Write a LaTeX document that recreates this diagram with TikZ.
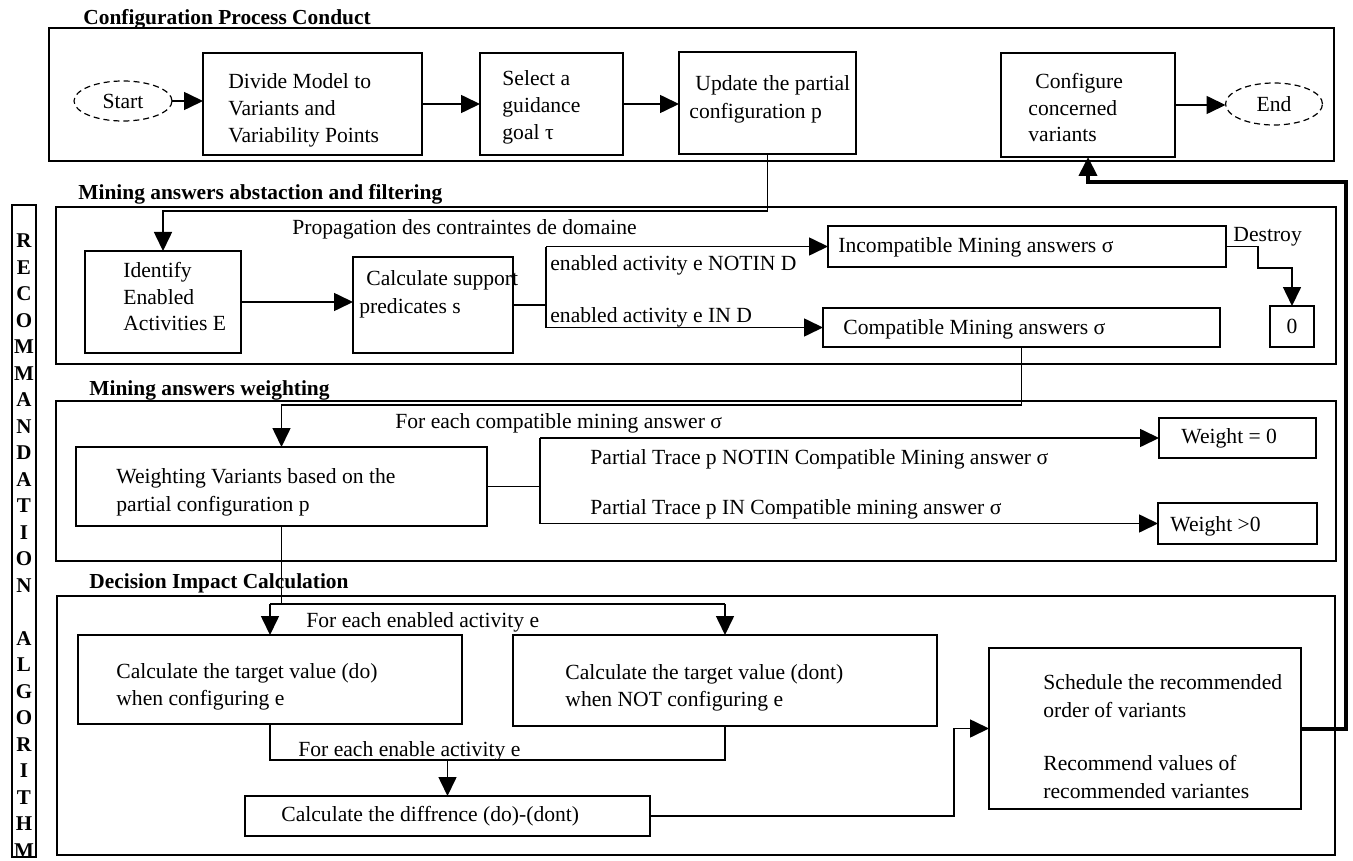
\documentclass[tikz,border=0pt]{standalone}
\usepackage{fontspec}
\setmainfont{Liberation Serif}
\usetikzlibrary{arrows.meta,shapes.geometric}
\newcommand\pxbox[6][box]{\node[#1, minimum width={(#5-#3)*0.5pt}, minimum height={(#6-#4)*0.5pt}] (#2) at ({(#3+#5)/2},{(#4+#6)/2}) {};}
\tikzset{
 box/.style={draw, line width=0.9pt, inner sep=0pt, outer sep=0pt},
 sec/.style={draw, line width=0.9pt, inner sep=0pt, outer sep=0pt},
 oval/.style={ellipse, draw, densely dashed, line width=0.6pt, inner sep=0pt, outer sep=0pt, font=\fontsize{10.8}{13}\selectfont},
 arr/.style={line width=0.8pt, -{Triangle[length=9.5pt,width=9pt]}},
 ln/.style={line width=0.8pt},
 ret/.style={line width=2pt, -{Triangle[length=9.5pt,width=9pt]}},
 txt/.style={anchor=west, align=left, inner sep=0pt, font=\fontsize{10.8}{13.5}\selectfont},
 ttl/.style={anchor=west, inner sep=0pt, font=\fontsize{10.7}{13}\selectfont\bfseries},
 vl/.style={inner sep=0pt, font=\fontsize{10.5}{12}\selectfont\bfseries},
}
\begin{document}
\begin{tikzpicture}[x=0.5pt,y=-0.5pt]
\useasboundingbox (0,0) rectangle (1353,861);
% ---------- Section 1
\node[ttl] (t1) at (83,19) {Configuration Process Conduct};
\pxbox[sec]{s1}{49}{28}{1334}{161}
\node[oval, minimum width=49pt, minimum height=20pt] (start) at (123,101) {Start};
\pxbox{divide}{203}{53}{422}{155}
\node[txt] (divt) at (228,110) {Divide Model to\\Variants and\\Variability Points};
\pxbox{select}{480}{53}{623}{155}
\node[txt] (selt) at (502,107) {Select a\\guidance\\goal τ};
\pxbox{update}{679}{52}{856}{154}
\node[txt, font=\fontsize{10.8}{14}\selectfont] (updt) at (689,99) {\hspace{3pt}Update the partial\\configuration p};
\pxbox{configure}{1001}{53}{1175}{157}
\node[txt, font=\fontsize{10.8}{13.25}\selectfont] (cfgt) at (1028,108) {\hspace{3.5pt}Configure\\concerned\\variants};
\node[oval, minimum width=48.5pt, minimum height=21pt] (end) at (1274,104) {End};
\draw[arr] (start.east) -- (start.east -| divide.west);
\draw[arr] (divide.east) -- (divide.east -| select.west);
\draw[arr] (select.east) -- (select.east -| update.west);
\draw[arr] (configure.east) -- (configure.east -| end.west);
% ---------- Section 2
\node[ttl] (t2) at (78,194) {Mining answers abstaction and filtering};
\pxbox[sec]{s2}{56}{207}{1336}{364}
\node[txt] (prop) at (292,229) {Propagation des contraintes de domaine};
\pxbox{identify}{85}{251}{241}{353}
\node[txt, font=\fontsize{10.8}{13.25}\selectfont] (idt) at (123,297) {Identify\\Enabled\\Activities E};
\pxbox{calc}{353}{257}{513}{353}
\node[txt, font=\fontsize{10.8}{14}\selectfont] (calct) at (359,294) {\hspace{3.5pt}Calculate support\\predicates s};
\pxbox{incompat}{828}{226}{1226}{267}
\node[txt] (inct) at (838,247) {Incompatible Mining answers σ};
\pxbox{compat}{823}{308}{1220}{347}
\node[txt] (comt) at (843,329) {Compatible Mining answers σ};
\pxbox{zero}{1270}{306}{1314}{347}
\node[inner sep=0pt, font=\fontsize{10.8}{13}\selectfont] (zerot) at (zero.center) {0};
\node[txt] (dest) at (1233,237) {Destroy};
\node[txt] (lnot) at (550,265) {enabled activity e NOTIN D};
\node[txt] (lin) at (550,317) {enabled activity e IN D};
\coordinate (c1) at (0,211);
\draw[arr] (update.south) |- (c1 -| identify.north) -- (identify.north);
\draw[arr] (identify.east) -- (identify.east -| calc.west);
\coordinate (j1) at (546,305);
\draw[ln] (calc.east) -- (calc.east -| j1);
\draw[ln] (j1 |- incompat.west) -- (j1 |- compat.west);
\draw[arr] (j1 |- incompat.west) -- (incompat.west);
\draw[arr] (j1 |- compat.west) -- (compat.west);
\coordinate (d1) at (1258,268);
\draw[arr] (incompat.east) -| (d1) -| (zero.north);
% ---------- Section 3
\node[ttl] (t3) at (89,390) {Mining answers weighting};
\pxbox[sec]{s3}{56}{401}{1336}{561}
\node[txt] (fec) at (395,423) {For each compatible mining answer σ};
\pxbox{weighting}{76}{447}{487}{526}
\node[txt, font=\fontsize{10.8}{14}\selectfont] (wt) at (116,492) {Weighting Variants based on the\\partial configuration p};
\node[txt] (pnot) at (590,459) {Partial Trace p NOTIN Compatible Mining answer σ};
\node[txt] (pin) at (590,509) {Partial Trace p IN Compatible mining answer σ};
\pxbox{weight0}{1159}{418}{1316}{458}
\node[txt] (w0t) at (1181,438) {Weight = 0};
\pxbox{weightgt}{1158}{503}{1317}{544}
\node[txt] (wgt) at (1170,526) {Weight >0};
\coordinate (c2) at (0,405);
\draw[arr] (compat.south) |- (c2 -| weighting.north) -- (weighting.north);
\coordinate (j2) at (540,487);
\draw[ln] (weighting.east) -- (weighting.east -| j2);
\draw[ln] (j2 |- weight0.west) -- (j2 |- weightgt.west);
\draw[arr] (j2 |- weight0.west) -- (weight0.west);
\draw[arr] (j2 |- weightgt.west) -- (weightgt.west);
% ---------- Section 4
\node[ttl] (t4) at (89,583) {Decision Impact Calculation};
\pxbox[sec]{s4}{57}{596}{1335}{855}
\node[txt] (fee) at (306,622) {For each enabled activity e};
\pxbox{calcdo}{78}{635}{462}{724}
\node[txt] (cdot) at (116,687) {Calculate the target value (do)\\when configuring e};
\pxbox{calcdont}{513}{635}{937}{726}
\node[txt] (cdnt) at (565,688) {Calculate the target value (dont)\\when NOT configuring e};
\node[txt] (fee2) at (298,751) {For each enable activity e};
\pxbox{calcdiff}{245}{796}{650}{836}
\node[txt] (cdft) at (281,816) {Calculate the diffrence (do)-(dont)};
\pxbox{schedule}{989}{648}{1301}{809}
\node[txt, font=\fontsize{10.8}{14}\selectfont] (sch1) at (1043,696) {Schedule the recommended\\order of variants};
\node[txt, font=\fontsize{10.8}{14}\selectfont] (sch2) at (1043,777) {Recommend values of\\recommended variantes};
\coordinate (c3) at (0,604);
\draw[ln] (weighting.south) -- (weighting.south |- c3);
\draw[ln] (calcdo.north |- c3) -- (calcdont.north |- c3);
\draw[arr] (calcdo.north |- c3) -- (calcdo.north);
\draw[arr] (calcdont.north |- c3) -- (calcdont.north);
\coordinate (c4) at (0,760);
\draw[ln] (calcdo.south) |- (c4 -| calcdont.south) -- (calcdont.south);
\draw[arr] (calcdiff.north |- c4) -- (calcdiff.north);
\coordinate (c5) at (954,0);
\draw[arr] (calcdiff.east) -| (c5 |- schedule.west) -- (schedule.west);
\coordinate (c6) at (1346,182);
\draw[ret] (schedule.east) -| (c6) -| (configure.south);
% ---------- vertical bar
\pxbox[sec]{vbar}{12}{205}{36}{857}
\foreach \ch [count=\k from 0] in {R,E,C,O,M,M,A,N,D,A,T,I,O,N,{},A,L,G,O,R,I,T,H,M} {
  \node[vl] (v\k) at (24,{241+\k*26.5}) {\ch};
}
\end{tikzpicture}
\end{document}
